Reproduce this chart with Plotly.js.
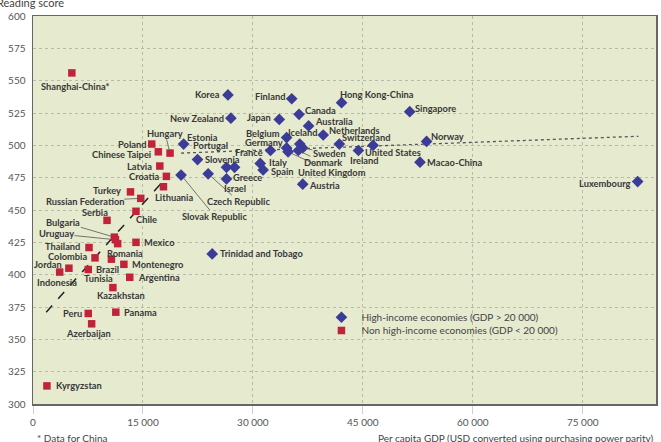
<!DOCTYPE html>
<html>
<head>
<meta charset="utf-8">
<script src="https://cdn.plot.ly/plotly-3.0.1.min.js"></script>
<style>html,body{margin:0;padding:0;background:#fff;}#chart{width:661px;height:442px;}</style>
</head>
<body>
<div id="chart"></div>
<script>
// High-income economies (GDP > 20 000)
var highNames = ['Korea','Finland','Hong Kong-China','Singapore','Canada','New Zealand','Japan','Australia','Netherlands','Belgium','Norway','Estonia','Switzerland','United States','Iceland','Germany','Sweden','Denmark','United Kingdom','France','Ireland','Portugal','Italy','Macao-China','Slovenia','Greece','Spain','Czech Republic','Slovak Republic','Israel','Luxembourg','Austria','Trinidad and Tobago'];
var highGDP =   [26600,35300,42100,51400,36300,27000,33600,37600,39600,34600,53700,20550,41800,46400,36400,34600,36800,36200,34800,32400,44400,22450,31000,52800,26400,27500,31400,23900,20200,26400,82500,36800,24450];
var highScore = [539,536,533,526,524,521,520,515,508,506,503,501,501,500,501,498,498,496,495,496,496,489,486,487,483,483,481,478,477,474,472,470,416];

// Non high-income economies (GDP < 20 000)
var lowNames = ['Shanghai-China*','Poland','Chinese Taipei','Hungary','Latvia','Croatia','Lithuania','Turkey','Russian Federation','Chile','Serbia','Bulgaria','Uruguay','Romania','Mexico','Thailand','Colombia','Brazil','Montenegro','Jordan','Tunisia','Indonesia','Argentina','Kazakhstan','Peru','Panama','Azerbaijan','Kyrgyzstan'];
var lowGDP =   [5300,16200,17100,18700,17300,18200,17800,13300,14700,14050,10100,11100,11250,11550,14050,7640,8460,10700,12400,4900,7540,3640,13200,10900,7540,11300,8000,1900];
var lowScore = [556,501,495,494,484,476,468,464,459,449,442,429,427,424,425,421,413,412,408,405,404,402,398,390,370,371,362,314];

// Trend lines (end points)
var lowTrendX = [1800, 18500];
var lowTrendY = [371, 477];
var highTrendX = [20200, 82600];
var highTrendY = [494, 507];

// Axis ticks
var xTickVals = [0, 15000, 30000, 45000, 60000, 75000];
var xTickText = ['0', '15 000', '30 000', '45 000', '60 000', '75 000'];
var yTickVals = [300, 325, 350, 375, 400, 425, 450, 475, 500, 525, 550, 575, 600];

// Label placement: [anchor, dx px, dy px (down +)] ; 'lead' = with leader line
var labelCfg = {
  'Shanghai-China*': ['center', 3, 13.5],
  'Poland': ['right', -5, 0],
  'Chinese Taipei': ['right', -6, 2.6],
  'Hungary': ['lead', -5, -19.7],
  'Latvia': ['right', -7, 0],
  'Croatia': ['right', -6, 0],
  'Lithuania': ['center', 10.5, 11],
  'Turkey': ['right', -8, -1],
  'Russian Federation': ['lead', -56, 2.7],
  'Chile': ['center', 10.7, 8.3],
  'Serbia': ['center', -12.5, -8],
  'Bulgaria': ['lead', -51, -15],
  'Uruguay': ['lead', -59, -6],
  'Romania': ['center', 7.7, 10],
  'Mexico': ['left', 7, 0],
  'Thailand': ['right', -8, -1.3],
  'Colombia': ['right', -7, -1.6],
  'Brazil': ['center', -3.8, 10],
  'Montenegro': ['left', 7, 0],
  'Jordan': ['right', -5.5, -3.4],
  'Indonesia': ['center', -3, 10],
  'Tunisia': ['center', 10.2, 9.3],
  'Argentina': ['left', 7, 0],
  'Kazakhstan': ['center', 8.3, 8.3],
  'Peru': ['right', -5, 0],
  'Panama': ['left', 7, 0],
  'Azerbaijan': ['center', -3.4, 9.7],
  'Kyrgyzstan': ['left', 8, 0],
  'Korea': ['right', -7, 0],
  'Finland': ['right', -6, -2.6],
  'Hong Kong-China': ['left', -2.7, -8],
  'Singapore': ['left', 4, -3.3],
  'Canada': ['left', 5, -3.7],
  'New Zealand': ['right', -6, 0],
  'Japan': ['right', -7, -2],
  'Australia': ['left', 5, -4.7],
  'Netherlands': ['left', 5, -4.3],
  'Belgium': ['right', -6, -4],
  'Iceland': ['center', 3, -12],
  'Germany': ['right', -2.7, -5.7],
  'France': ['right', -6, 2],
  'Switzerland': ['left', 2, -7],
  'Norway': ['left', 3, -5],
  'Sweden': ['lead', 26.7, 5.5],
  'Denmark': ['lead', 24.8, 11.8],
  'United Kingdom': ['lead', 43.7, 20.2],
  'United States': ['center', 19.5, 7.2],
  'Ireland': ['center', 6.4, 9.5],
  'Italy': ['left', 7.7, -1.3],
  'Spain': ['left', 6.7, 2],
  'Austria': ['left', 5, 1],
  'Greece': ['center', 12.5, 9.7],
  'Israel': ['center', 8.3, 9.3],
  'Slovenia': ['center', -4, -7.8],
  'Portugal': ['center', 13.3, -14.5],
  'Estonia': ['left', 2.3, -6.6],
  'Czech Republic': ['lead', 30.4, 27.4],
  'Slovak Republic': ['lead', 33.7, 41],
  'Trinidad and Tobago': ['left', 7, 0],
  'Macao-China': ['left', 6, 0],
  'Luxembourg': ['right', -6, 2.3]
};

var FONT = 'Lato, "Open Sans", sans-serif';
var labelFont = {family: FONT, size: 9.3, color: '#383838', weight: 700};

var annotations = [];
function addLabels(names, xs, ys) {
  for (var i = 0; i < names.length; i++) {
    var c = labelCfg[names[i]] || ['left', 6, 0];
    if (c[0] === 'lead') {
      annotations.push({x: xs[i], y: ys[i], xref: 'x', yref: 'y', text: names[i],
        showarrow: true, arrowhead: 0, arrowwidth: 0.8, arrowcolor: '#555',
        ax: c[1], ay: c[2], standoff: 3, font: labelFont, borderpad: 0});
    } else {
      annotations.push({x: xs[i], y: ys[i], xref: 'x', yref: 'y', text: names[i],
        showarrow: false, xanchor: c[0], yanchor: 'middle',
        xshift: c[1], yshift: -c[2], font: labelFont, borderpad: 0});
    }
  }
}
addLabels(highNames, highGDP, highScore);
addLabels(lowNames, lowGDP, lowScore);

annotations.push({xref: 'paper', yref: 'paper', x: -0.061, y: 1.036, xanchor: 'left', yanchor: 'middle',
  text: 'Reading score', showarrow: false, font: {family: FONT, size: 11, color: '#444'}});
annotations.push({xref: 'paper', yref: 'paper', x: 0.003, y: -0.088, xanchor: 'left', yanchor: 'middle',
  text: '* Data for China', showarrow: false, font: {family: FONT, size: 10, color: '#444'}});
annotations.push({xref: 'paper', yref: 'paper', x: 1, y: -0.088, xanchor: 'right', yanchor: 'middle',
  text: 'Per capita GDP (USD converted using purchasing power parity)', showarrow: false,
  font: {family: FONT, size: 10, color: '#444'}});

var traces = [
  {x: lowTrendX, y: lowTrendY, mode: 'lines', showlegend: false, hoverinfo: 'skip',
   line: {color: '#222', width: 1.5, dash: 'dash'}},
  {x: highTrendX, y: highTrendY, mode: 'lines', showlegend: false, hoverinfo: 'skip',
   line: {color: '#555', width: 1.3, dash: 'dot'}},
  {x: highGDP, y: highScore, text: highNames, mode: 'markers', type: 'scatter',
   name: 'High-income economies (GDP > 20 000)', legend: 'legend',
   marker: {symbol: 'diamond', size: 9, color: '#3b3b98'}},
  {x: lowGDP, y: lowScore, text: lowNames, mode: 'markers', type: 'scatter',
   name: 'Non high-income economies (GDP < 20 000)', legend: 'legend2',
   marker: {symbol: 'square', size: 7.5, color: '#c0233a'}}
];

var legendFont = {family: FONT, size: 10, color: '#444'};
var layout = {
  width: 661, height: 442,
  margin: {l: 33, r: 5, t: 16, b: 38},
  paper_bgcolor: '#ffffff',
  plot_bgcolor: '#e6eacf',
  font: {family: FONT, size: 10, color: '#444'},
  showlegend: true,
  legend: {x: 0.463, y: 0.261, xanchor: 'left', yanchor: 'top', bgcolor: 'rgba(0,0,0,0)', font: legendFont},
  legend2: {x: 0.463, y: 0.227, xanchor: 'left', yanchor: 'top', bgcolor: 'rgba(0,0,0,0)', font: legendFont},
  xaxis: {range: [0, 85000], tickvals: xTickVals, ticktext: xTickText,
    showgrid: true, gridcolor: '#b8bba8', griddash: 'dot', gridwidth: 1,
    showline: true, linecolor: '#666', linewidth: 1.5, mirror: true, zeroline: false,
    ticks: 'outside', ticklen: 8, tickcolor: '#cfcfcf', tickwidth: 1,
    tickfont: {family: FONT, size: 10, color: '#555'}},
  yaxis: {range: [300, 600], tickvals: yTickVals,
    showgrid: true, gridcolor: '#b8bba8', griddash: 'dot', gridwidth: 1,
    showline: true, linecolor: '#666', linewidth: 1.5, mirror: true, zeroline: false,
    ticks: '', ticklabelstandoff: 4,
    tickfont: {family: FONT, size: 10, color: '#555'}},
  annotations: annotations
};

Plotly.newPlot('chart', traces, layout, {displayModeBar: false, staticPlot: true});
</script>
</body>
</html>
